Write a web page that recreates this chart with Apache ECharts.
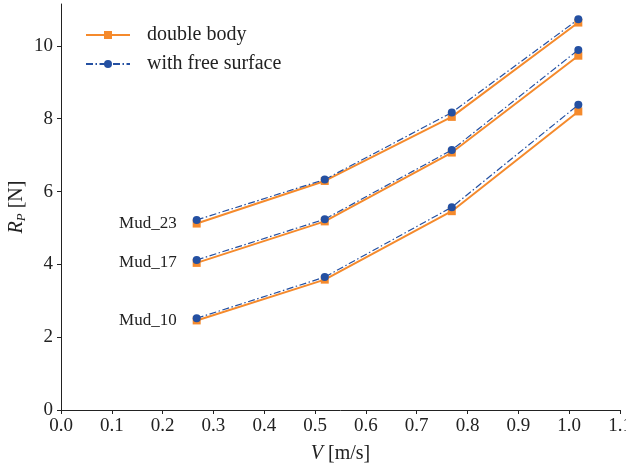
<!DOCTYPE html>
<html>
<head>
<meta charset="utf-8">
<script src="https://cdn.jsdelivr.net/npm/echarts@6/dist/echarts.min.js"></script>
<style>
  html, body { margin: 0; padding: 0; background: #fff; }
  #main { width: 626px; height: 470px; }
</style>
</head>
<body>
<div id="main"></div>
<script>
// data
var speeds = [0.267, 0.519, 0.769, 1.018];
var mudNames = ['Mud_10', 'Mud_17', 'Mud_23'];
var doubleBody = [
  [2.46, 3.58, 5.46, 8.20],
  [4.04, 5.18, 7.07, 9.73],
  [5.12, 6.29, 8.05, 10.64]
];
var freeSurface = [
  [2.52, 3.65, 5.57, 8.38],
  [4.12, 5.24, 7.14, 9.89],
  [5.22, 6.33, 8.17, 10.73]
];

var FONT = 'Liberation Serif';
var orange = '#f58a2c';
var blue = '#2450a2';

function pairs(ys) {
  return speeds.map(function (x, i) { return [x, ys[i]]; });
}

var series = [];
doubleBody.forEach(function (ys, k) {
  series.push({
    name: 'double body',
    type: 'line',
    data: pairs(ys),
    symbol: 'rect',
    symbolSize: 8,
    z: 2,
    lineStyle: { color: orange, width: 2 },
    itemStyle: { color: orange },
    label: {
      show: true,
      position: 'left',
      distance: 16,
      color: '#222',
      fontFamily: FONT,
      fontSize: 17,
      formatter: function (p) { return p.dataIndex === 0 ? mudNames[k] : ''; }
    }
  });
});
freeSurface.forEach(function (ys) {
  series.push({
    name: 'with free surface',
    type: 'line',
    data: pairs(ys),
    symbol: 'circle',
    symbolSize: 8,
    z: 3,
    lineStyle: { color: blue, width: 1.2, type: [7, 2.5, 1.5, 2.5] },
    itemStyle: { color: blue }
  });
});

var option = {
  animation: false,
  backgroundColor: '#fff',
  grid: { left: 61, right: 6, top: 4, bottom: 60, containLabel: false, outerBoundsMode: 'none' },
  legend: {
    left: 80,
    top: 20,
    orient: 'vertical',
    itemWidth: 44,
    itemHeight: 10,
    itemGap: 9,
    textStyle: { fontFamily: FONT, fontSize: 20, color: '#222', padding: [0, 0, 0, 12] },
    data: ['double body', 'with free surface']
  },
  xAxis: {
    type: 'value',
    min: 0,
    max: 1.1,
    interval: 0.1,
    name: '{i|V} [m/s]',
    nameLocation: 'middle',
    nameGap: 34,
    nameTextStyle: {
      fontFamily: FONT, fontSize: 20, color: '#222',
      rich: { i: { fontFamily: FONT, fontStyle: 'italic', fontSize: 20, color: '#222' } }
    },
    splitLine: { show: false },
    axisLine: { onZero: false, lineStyle: { color: '#222', width: 1 } },
    axisTick: { inside: false, length: 4, lineStyle: { color: '#222' } },
    axisLabel: {
      fontFamily: FONT, fontSize: 19, color: '#222', margin: 7,
      formatter: function (v) { return v.toFixed(1); }
    }
  },
  yAxis: {
    type: 'value',
    min: 0,
    max: 11.15,
    interval: 2,
    name: '{i|R}{s|P} [N]',
    nameLocation: 'middle',
    nameRotate: 90,
    nameGap: 33,
    nameMoveOverlap: false,
    nameTextStyle: {
      fontFamily: FONT, fontSize: 20, color: '#222',
      rich: {
        i: { fontFamily: FONT, fontStyle: 'italic', fontSize: 20, color: '#222' },
        s: { fontFamily: FONT, fontStyle: 'italic', fontSize: 13, color: '#222', verticalAlign: 'bottom', padding: [9, 0, 0, 0] }
      }
    },
    splitLine: { show: false },
    axisLine: { show: true, lineStyle: { color: '#222', width: 1 } },
    axisTick: { show: true, inside: false, length: 4, lineStyle: { color: '#222' } },
    axisLabel: {
      fontFamily: FONT, fontSize: 19, color: '#222', margin: 8,
      showMaxLabel: false
    }
  },
  series: series
};

var myChart = echarts.init(document.getElementById('main'));
myChart.setOption(option);
</script>
</body>
</html>
